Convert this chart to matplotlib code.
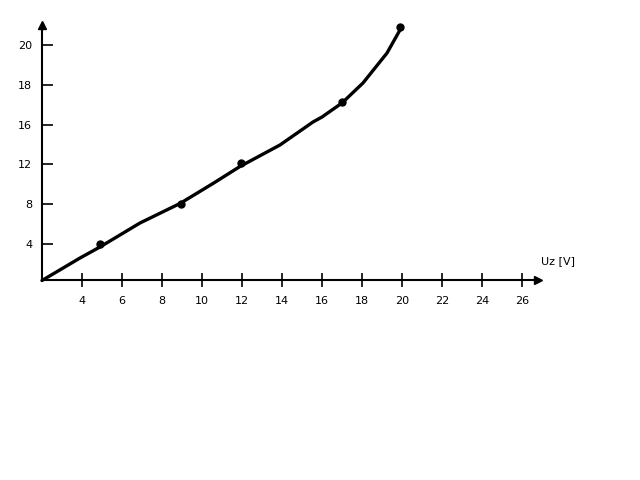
import matplotlib
matplotlib.use("Agg")
import matplotlib.pyplot as plt

# measured points (x in volts, y in axis units of the drawn scale)
point_x = [4.9, 8.95, 11.95, 17.0, 19.9]
point_y = [3.67, 7.69, 11.76, 17.94, 25.48]

# hand-drawn curve through the points
curve_x = [2.0, 3.9, 4.9, 6.9, 8.9, 10.55, 11.9, 13.9, 15.55, 16.0, 17.0, 18.05, 19.25, 19.9]
curve_y = [0.0, 2.26, 3.37, 5.78, 7.74, 9.75, 11.46, 13.62, 15.93, 16.43, 17.84, 19.85, 22.86, 25.18]

x_ticks = [4, 6, 8, 10, 12, 14, 16, 18, 20, 22, 24, 26]
y_tick_pos = [3.67, 7.69, 11.71, 15.63, 19.65, 23.67]
y_tick_labels = ["4", "8", "12", "16", "18", "20"]
x_label = "Uz [V]"

fig = plt.figure(figsize=(6.4, 4.8), dpi=100)
ax = fig.add_axes([0, 0, 1, 1])
ax.set_xlim(-0.1, 31.9)
ax.set_ylim(-20.05, 28.19)

for s in ["top", "right"]:
    ax.spines[s].set_visible(False)
ax.spines["left"].set_position(("data", 2))
ax.spines["bottom"].set_position(("data", 0))
ax.spines["bottom"].set_bounds(2, 26.8)
ax.spines["left"].set_bounds(0, 25.6)
ax.spines["left"].set_linewidth(1.5)
ax.spines["bottom"].set_linewidth(1.5)

ax.set_xticks(x_ticks)
ax.set_xticklabels([str(t) for t in x_ticks])
ax.set_yticks(y_tick_pos)
ax.set_yticklabels(y_tick_labels)
ax.tick_params(axis="x", direction="inout", length=10, width=1.2, labelsize=8, pad=6)
ax.tick_params(axis="y", direction="in", length=8, width=1.2, labelsize=8, pad=7)

# axis arrows
ax.plot([26.8], [0], marker=">", color="black", markersize=6, clip_on=False)
ax.plot([2], [25.7], marker="^", color="black", markersize=6, clip_on=False)

ax.plot(curve_x, curve_y, color="black", linewidth=2.4,
        solid_capstyle="round", solid_joinstyle="round")
ax.plot(point_x, point_y, "o", color="black", markersize=5)

ax.text(26.95, 2.0, x_label, fontsize=8, ha="left", va="center")

fig.savefig("out.png", dpi=100)
